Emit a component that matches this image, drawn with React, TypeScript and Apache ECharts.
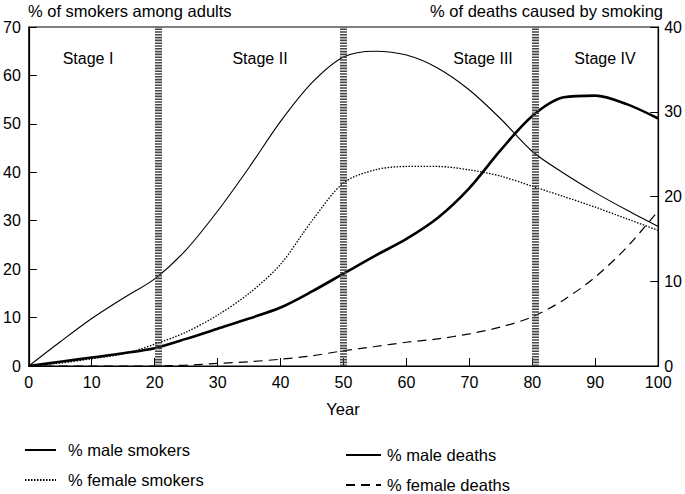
import React, { useEffect, useRef } from "react";
import * as echarts from "echarts";

const years = [0, 5, 10, 15, 20, 25, 30, 35, 40, 45, 50, 55, 60, 65, 70, 75, 80, 85, 90, 95, 100];
const maleSmokers = [0, 5, 9.8, 14, 18, 24, 32, 41, 50.5, 58.5, 63.8, 65, 64.2, 61.5, 57, 51, 44.3, 39.8, 35.8, 32.2, 28.8];
const femaleSmokers = [0, 0.6, 1.5, 2.5, 4.5, 7, 10.5, 15, 21, 30, 37.8, 40.5, 41.2, 41.2, 40.5, 39.2, 37.1, 35, 32.8, 30.4, 28];
const maleDeaths = [0, 0.5, 1.0, 1.5, 2.1, 3.2, 4.4, 5.6, 6.9, 8.8, 10.9, 13.0, 15.0, 17.5, 21.0, 25.5, 29.5, 31.7, 31.9, 30.9, 29.2];
const femaleDeaths = [0, 0, 0, 0, 0, 0.1, 0.3, 0.5, 0.8, 1.2, 1.8, 2.3, 2.8, 3.2, 3.8, 4.6, 5.8, 7.8, 10.5, 14, 18.3];
const stageDividers = [20.5, 50, 80.5];
const stageLabels = ["Stage I", "Stage II", "Stage III", "Stage IV"];
const leftTicks = [0, 10, 20, 30, 40, 50, 60, 70];
const rightTicks = [0, 10, 20, 30, 40];

const FONT = "'Liberation Sans', Arial, Helvetica, sans-serif";

export default function App() {
  const ref = useRef<HTMLDivElement>(null);
  useEffect(() => {
    if (!ref.current) return;
    document.body.style.margin = "0";
    const chart = echarts.init(ref.current, undefined, { renderer: "svg" });
    const pairs = (arr: number[]) => years.map((y, i) => [y, arr[i]]);
    const stageX = [88, 260, 483, 605];
    const legendBase = {
      orient: "vertical",
      padding: 0,
      itemHeight: 14,
      itemGap: 13,
      height: 60,
      itemStyle: { opacity: 0 },
    };
    const option: any = {
      animation: false,
      backgroundColor: "#fff",
      textStyle: { fontFamily: FONT, color: "#000" },
      grid: { left: 28, right: 26, top: 27, bottom: 128, show: true, borderColor: "#000", borderWidth: 1.2 },
      xAxis: {
        type: "value",
        min: 0,
        max: 100,
        interval: 10,
        axisLine: { lineStyle: { color: "#000", width: 1.2 } },
        axisTick: { inside: true, length: 8, lineStyle: { color: "#000" } },
        axisLabel: { color: "#000", fontSize: 16, fontFamily: FONT, margin: 8 },
        splitLine: { show: false },
      },
      yAxis: [
        {
          type: "value",
          min: leftTicks[0],
          max: leftTicks[leftTicks.length - 1],
          interval: 10,
          axisLine: { show: true, lineStyle: { color: "#000", width: 1.2 } },
          axisTick: { show: true, inside: true, length: 8, lineStyle: { color: "#000" } },
          axisLabel: { color: "#000", fontSize: 16, fontFamily: FONT, margin: 8 },
          splitLine: { show: false },
        },
        {
          type: "value",
          min: rightTicks[0],
          max: rightTicks[rightTicks.length - 1],
          interval: 10,
          position: "right",
          axisLine: { show: true, lineStyle: { color: "#000", width: 1.2 } },
          axisTick: { show: true, inside: true, length: 8, lineStyle: { color: "#000" } },
          axisLabel: { color: "#000", fontSize: 16, fontFamily: FONT, margin: 6 },
          splitLine: { show: false },
        },
      ],
      legend: [
        {
          ...legendBase,
          data: ["% male smokers", "% female smokers"],
          left: 24,
          top: 441.5,
          itemWidth: 31,
          textStyle: { fontSize: 16.5, color: "#000", fontFamily: FONT, padding: [0, 0, 0, 7] },
        },
        {
          ...legendBase,
          data: ["% male deaths", "% female deaths"],
          left: 345,
          top: 446.5,
          itemWidth: 35,
          textStyle: { fontSize: 16.5, color: "#000", fontFamily: FONT, padding: [0, 0, 0, 1] },
        },
      ],
      series: [
        {
          name: "% male smokers",
          type: "line",
          yAxisIndex: 0,
          data: pairs(maleSmokers),
          smooth: 0.3,
          symbol: "none",
          lineStyle: { color: "#000", width: 1.1 },
          itemStyle: { color: "#000" },
          z: 3,
          markLine: {
            silent: true,
            symbol: "none",
            label: { show: false },
            lineStyle: { color: "#444", width: 7, type: [1.6, 1.2] },
            data: stageDividers.map((x) => ({ xAxis: x })),
          },
        },
        {
          name: "% female smokers",
          type: "line",
          yAxisIndex: 0,
          data: pairs(femaleSmokers),
          smooth: 0.3,
          symbol: "none",
          lineStyle: { color: "#000", width: 1.3, type: [1.5, 1.5] },
          itemStyle: { color: "#000" },
          z: 3,
        },
        {
          name: "% male deaths",
          type: "line",
          yAxisIndex: 1,
          data: pairs(maleDeaths),
          smooth: 0.3,
          symbol: "none",
          lineStyle: { color: "#000", width: 2.6 },
          itemStyle: { color: "#000" },
          z: 3,
        },
        {
          name: "% female deaths",
          type: "line",
          yAxisIndex: 1,
          data: pairs(femaleDeaths),
          smooth: 0.3,
          symbol: "none",
          lineStyle: { color: "#000", width: 1.2, type: [9, 6] },
          itemStyle: { color: "#000" },
          z: 3,
        },
      ],
      graphic: [
        { type: "text", left: 28, top: 2, style: { text: "% of smokers among adults", font: `16.5px ${FONT}`, fill: "#000" } },
        { type: "text", right: 22, top: 2, style: { text: "% of deaths caused by smoking", font: `16.5px ${FONT}`, fill: "#000" } },
        { type: "text", x: 343, y: 409, style: { text: "Year", font: `16.5px ${FONT}`, fill: "#000", align: "center", verticalAlign: "middle" } },
        ...stageLabels.map((t, i) => ({
          type: "text",
          x: stageX[i],
          y: 58,
          style: { text: t, font: `16px ${FONT}`, fill: "#000", align: "center", verticalAlign: "middle" },
        })),
      ],
    };
    chart.setOption(option);
    return () => chart.dispose();
  }, []);
  return <div ref={ref} style={{ width: 685, height: 494 }} />;
}
